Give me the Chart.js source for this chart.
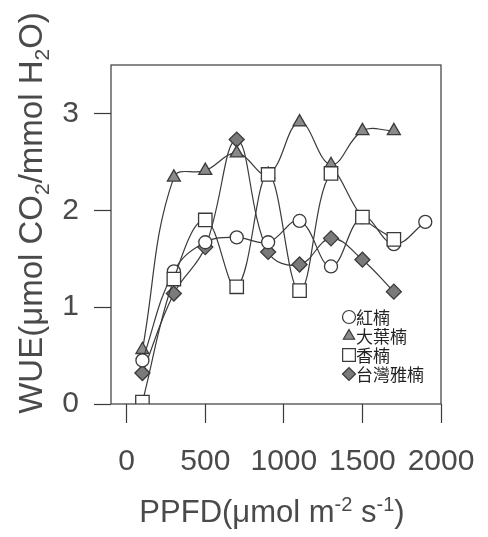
<!DOCTYPE html>
<html>
<head>
    <title>WUE vs PPFD</title>
    <script src="https://cdn.jsdelivr.net/npm/chart.js"></script>
    <style>
        body { margin: 0; padding: 0; background: #fff; }
        #wrap { width: 488px; height: 537px; }
    </style>
</head>
<body>
<div id="wrap"><canvas id="wueChart" width="488" height="537"></canvas></div>
<script>
// data
const ppfd = [100, 300, 500, 700, 900, 1100, 1300, 1500, 1700, 1900];
const hongNan = [0.45, 1.37, 1.67, 1.72, 1.67, 1.89, 1.42, 1.93, 1.65, 1.88];
const daYeNan = [0.56, 2.34, 2.41, 2.59, 2.37, 2.91, 2.47, 2.82, 2.82];
const xiangNan = [0.02, 1.29, 1.90, 1.21, 2.37, 1.17, 2.38, 1.93, 1.70];
const yaNan = [0.32, 1.14, 1.62, 2.73, 1.57, 1.44, 1.71, 1.49, 1.16];
const seriesNames = ['紅楠', '大葉楠', '香楠', '台灣雅楠'];
const xTicks = [0, 500, 1000, 1500, 2000];
const yTicks = [0, 1, 2, 3];

const ink = '#3a3a3a';
const txt = '#4a4a4a';

function pts(vals) {
    return vals.map((v, i) => ({ x: ppfd[i], y: v }));
}

const styles = [
    { pointStyle: 'circle', radius: 6.5, fill: '#ffffff' },
    { pointStyle: 'triangle', radius: 7.5, fill: '#8a8a8a' },
    { pointStyle: 'rect', radius: 9.5, fill: '#ffffff' },
    { pointStyle: 'rectRot', radius: 7.5, fill: '#7a7a7a' }
];
const allVals = [hongNan, daYeNan, xiangNan, yaNan];
const orders = [1, 2, 0, 3];

const datasets = allVals.map((vals, i) => ({
    label: seriesNames[i],
    data: pts(vals),
    borderColor: ink,
    borderWidth: 1.2,
    tension: 0.4,
    pointStyle: styles[i].pointStyle,
    pointRadius: styles[i].radius,
    pointBackgroundColor: styles[i].fill,
    pointBorderColor: ink,
    pointBorderWidth: 1.3,
    order: orders[i],
    fill: false
}));

// frame, axis titles and legend
const extras = {
    id: 'extras',
    afterDraw(chart) {
        const ctx = chart.ctx;
        const a = chart.chartArea;
        ctx.save();
        ctx.strokeStyle = ink;
        ctx.lineWidth = 1.2;
        ctx.strokeRect(a.left, a.top, a.right - a.left, a.bottom - a.top);

        // x title
        ctx.fillStyle = txt;
        ctx.textBaseline = 'alphabetic';
        ctx.textAlign = 'left';
        const big = '31px "Liberation Sans", Arial, sans-serif';
        const small = '20px "Liberation Sans", Arial, sans-serif';
        const xParts = [
            ['PPFD(\u03bcmol m', big, 0], ['-2', small, -11], [' s', big, 0], ['-1', small, -11], [')', big, 0]
        ];
        drawParts(ctx, xParts, 272, 522);

        // y title, rotated
        ctx.save();
        ctx.translate(42, 213);
        ctx.rotate(-Math.PI / 2);
        const yBig = '33px "Liberation Sans", Arial, sans-serif';
        const ySmall = '21px "Liberation Sans", Arial, sans-serif';
        const yParts = [
            ['WUE(\u03bcmol CO', yBig, 0], ['2', ySmall, 7], ['/mmol H', yBig, 0], ['2', ySmall, 7], ['O)', yBig, 0]
        ];
        drawParts(ctx, yParts, 0, 0);
        ctx.restore();

        // legend
        const lx = 349, ly0 = 317, step = 19;
        ctx.font = '17px "Noto Sans CJK TC", sans-serif';
        ctx.textBaseline = 'middle';
        seriesNames.forEach((name, i) => {
            const y = ly0 + i * step;
            ctx.fillStyle = styles[i].fill;
            ctx.strokeStyle = ink;
            ctx.lineWidth = 1.2;
            const r = styles[i].pointStyle === 'rect' ? 9 : 6.5;
            Chart.helpers.drawPoint(ctx, { pointStyle: styles[i].pointStyle, radius: r, rotation: 0, borderWidth: 1.2 }, lx, y);
            ctx.fillStyle = '#222';
            ctx.fillText(name, lx + 7, y + 1);
        });
        ctx.restore();
    }
};

function drawParts(ctx, parts, cx, baseY) {
    let total = 0;
    parts.forEach(p => { ctx.font = p[1]; total += ctx.measureText(p[0]).width; });
    let x = cx - total / 2;
    parts.forEach(p => {
        ctx.font = p[1];
        ctx.fillText(p[0], x, baseY + p[2]);
        x += ctx.measureText(p[0]).width;
    });
}

new Chart(document.getElementById('wueChart'), {
    type: 'line',
    data: { datasets: datasets },
    options: {
        responsive: false,
        animation: false,
        layout: { padding: { top: 65, right: 47, left: 0, bottom: 0 } },
        plugins: { legend: { display: false }, tooltip: { enabled: false } },
        scales: {
            x: {
                type: 'linear',
                min: -100,
                max: 2000,
                afterBuildTicks: s => { s.ticks = xTicks.map(v => ({ value: v })); },
                afterFit: s => { s.height = 133; s.paddingLeft = 0; s.paddingRight = 0; },
                grid: { drawOnChartArea: false, tickLength: 19, color: ink, tickWidth: 1.2 },
                border: { display: false },
                ticks: {
                    color: txt, padding: 21, maxRotation: 0, autoSkip: false,
                    callback: v => String(v),
                    font: { size: 30, family: '"Liberation Sans", Arial, sans-serif' }
                }
            },
            y: {
                type: 'linear',
                min: 0,
                max: 3.5,
                afterBuildTicks: s => { s.ticks = yTicks.map(v => ({ value: v })); },
                afterFit: s => { s.width = 111; s.paddingTop = 0; s.paddingBottom = 0; },
                grid: { drawOnChartArea: false, tickLength: 17, color: ink, tickWidth: 1.2 },
                border: { display: false },
                ticks: {
                    color: txt, padding: 15,
                    callback: v => String(v),
                    font: { size: 30, family: '"Liberation Sans", Arial, sans-serif' }
                }
            }
        }
    },
    plugins: [extras]
});
</script>
</body>
</html>
